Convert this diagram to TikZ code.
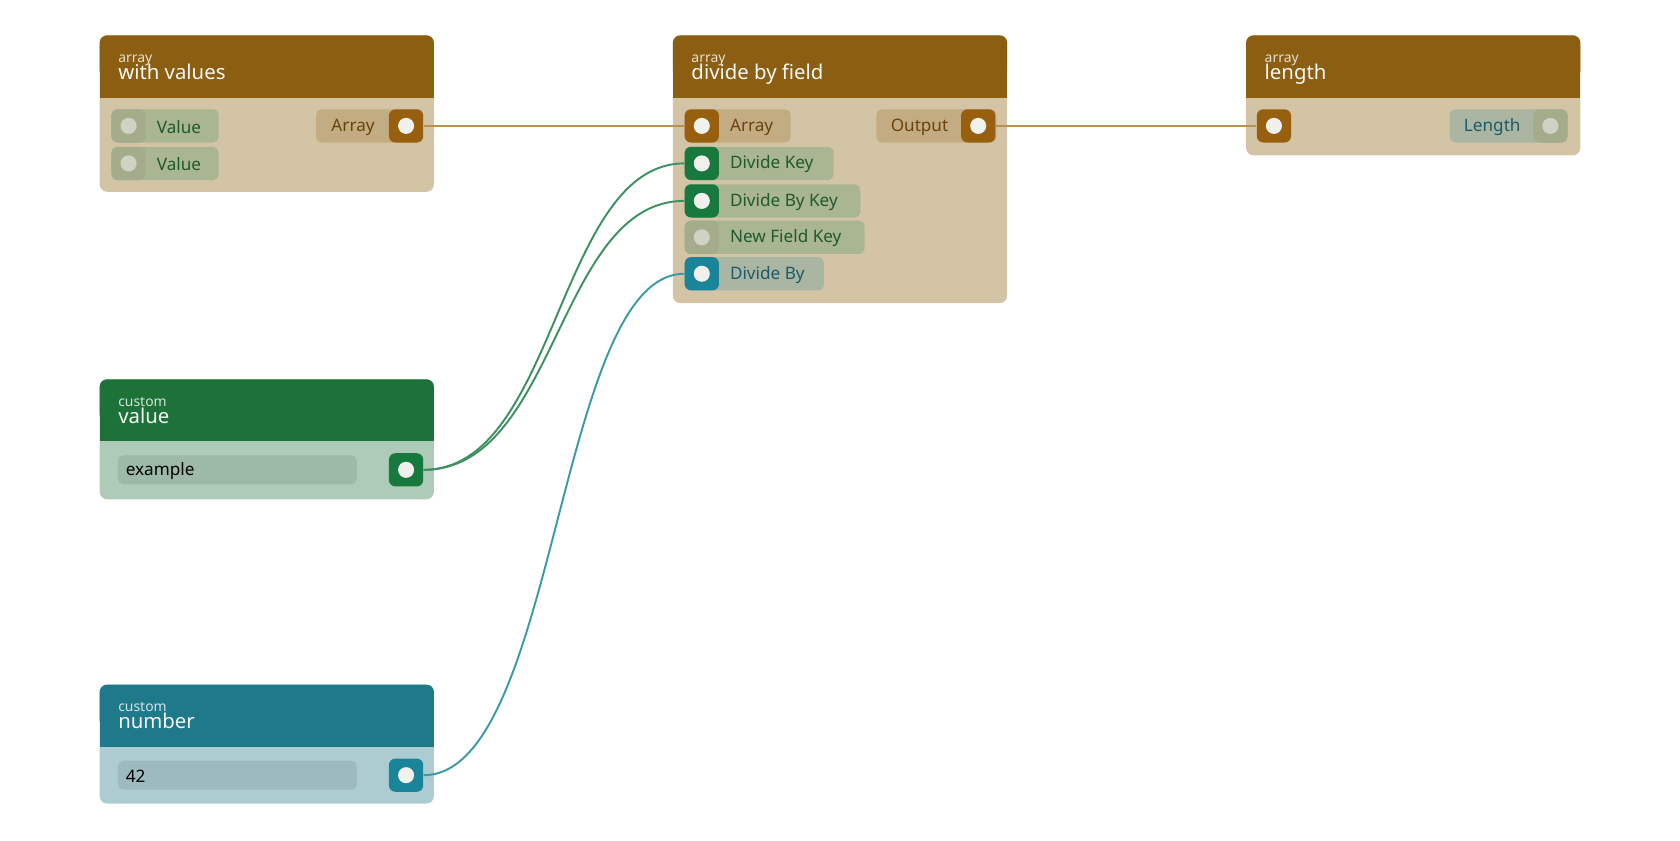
\documentclass[tikz,border=0pt]{standalone}
\usepackage{fontspec}
\setmainfont{Noto Sans}
\definecolor{brHead}{RGB}{139,94,18}
\definecolor{brBody}{RGB}{212,196,166}
\definecolor{brPill}{RGB}{196,172,130}
\definecolor{brSock}{RGB}{152,96,14}
\definecolor{brText}{RGB}{104,68,14}
\definecolor{grPill}{RGB}{170,181,146}
\definecolor{grText}{RGB}{30,90,46}
\definecolor{grSock}{RGB}{23,121,61}
\definecolor{offSock}{RGB}{164,172,140}
\definecolor{offDot}{RGB}{208,211,196}
\definecolor{tlSock}{RGB}{26,133,152}
\definecolor{tlPill}{RGB}{170,181,162}
\definecolor{tlText}{RGB}{29,90,107}
\definecolor{gnHead}{RGB}{29,114,57}
\definecolor{gnBody}{RGB}{173,203,182}
\definecolor{gnField}{RGB}{157,186,168}
\definecolor{tkHead}{RGB}{30,122,138}
\definecolor{tkBody}{RGB}{173,204,210}
\definecolor{tkField}{RGB}{157,187,191}
\definecolor{brWire}{RGB}{184,146,80}
\definecolor{grWire}{RGB}{61,145,96}
\definecolor{tlWire}{RGB}{58,155,165}
\definecolor{dotW}{RGB}{240,240,236}

\tikzset{every picture/.style={line width=0.75pt}}
\tikzset{
  sock/.style={draw=none,fill=#1,rounded corners=6pt,minimum width=32pt,minimum height=31pt,inner sep=0pt},
  dot/.style={circle,fill=#1,minimum size=15pt,inner sep=0pt},
  lbl/.style={anchor=west,font=\fontsize{16}{16}\selectfont,text=#1,inner sep=0pt,yshift=-1pt},
  wire/.style={line width=1.8pt,draw=#1}
}
% frame of one block: x, top, bottom, header colour, body colour, kind, title
\newcommand{\blockframe}[7]{
  \fill[#5,rounded corners=7pt] (#1,#2) rectangle ++(312,#3-#2);
  \fill[#4,rounded corners=7pt] (#1,#2) rectangle ++(312,40);
  \fill[#4] (#1,#2+30) rectangle ++(312,28);
  \node[anchor=base west,inner sep=0pt,text=white!80!#4,font=\fontsize{13}{13}\selectfont] at (#1+17,#2+25) {#6};
  \node[anchor=base west,inner sep=0pt,text=white!95!#4,font=\fontsize{19}{19}\selectfont] at (#1+17,#2+41) {#7};
}

\begin{document}
\begin{tikzpicture}[x=1pt,y=1pt,yscale=-1]
\useasboundingbox (0,0) rectangle (1568,784);

% block: with values
\blockframe{93}{33}{179}{brHead}{brBody}{array}{with values}
\fill[grPill,rounded corners=5pt] (104,102) rectangle (204,133);
\node[sock=offSock] (wv1) at (120,117.5) {}; \node[dot=offDot] at (wv1) {};
\node[lbl=grText] at (146,117.5) {Value};
\fill[grPill,rounded corners=5pt] (104,137) rectangle (204,168);
\node[sock=offSock] (wv2) at (120,152.5) {}; \node[dot=offDot] at (wv2) {};
\node[lbl=grText] at (146,152.5) {Value};
\fill[brPill,rounded corners=5pt] (295,102) rectangle (395,133);
\node[lbl=brText] at (309,117.5) {Array};
\node[sock=brSock] (wvOut) at (379,117.5) {}; \node[dot=dotW] at (wvOut) {};

% block: divide by field
\blockframe{628}{33}{283}{brHead}{brBody}{array}{divide by field}
\fill[brPill,rounded corners=5pt] (639,102) rectangle (738,133);
\node[sock=brSock] (dfArr) at (655,117.5) {}; \node[dot=dotW] at (dfArr) {};
\node[lbl=brText] at (681,117.5) {Array};
\fill[grPill,rounded corners=5pt] (639,137) rectangle (778,168);
\node[sock=grSock] (dfKey) at (655,152.5) {}; \node[dot=dotW] at (dfKey) {};
\node[lbl=grText] at (681,152.5) {Divide Key};
\fill[grPill,rounded corners=5pt] (639,172) rectangle (803,203);
\node[sock=grSock] (dfByKey) at (655,187.5) {}; \node[dot=dotW] at (dfByKey) {};
\node[lbl=grText] at (681,187.5) {Divide By Key};
\fill[grPill,rounded corners=5pt] (639,206) rectangle (807,237);
\node[sock=offSock] (dfNew) at (655,221.5) {}; \node[dot=offDot] at (dfNew) {};
\node[lbl=grText] at (681,221.5) {New Field Key};
\fill[tlPill,rounded corners=5pt] (639,240) rectangle (769,271);
\node[sock=tlSock] (dfBy) at (655,255.5) {}; \node[dot=dotW] at (dfBy) {};
\node[lbl=tlText] at (681,255.5) {Divide By};
\fill[brPill,rounded corners=5pt] (818,102) rectangle (930,133);
\node[lbl=brText] at (831,117.5) {Output};
\node[sock=brSock] (dfOut) at (913,117.5) {}; \node[dot=dotW] at (dfOut) {};

% block: length
\blockframe{1163}{33}{145}{brHead}{brBody}{array}{length}
\node[sock=brSock] (lnIn) at (1189,117.5) {}; \node[dot=dotW] at (lnIn) {};
\fill[tlPill,rounded corners=5pt] (1353,102) rectangle (1463,133);
\node[lbl=tlText] at (1366,117.5) {Length};
\node[sock=offSock] (lnOut) at (1447,117.5) {}; \node[dot=offDot] at (lnOut) {};

% block: value
\blockframe{93}{354}{466}{gnHead}{gnBody}{custom}{value}
\fill[gnField,rounded corners=5pt] (110,425) rectangle (333,452);
\node[lbl=black] at (117,438.5) {example};
\node[sock=grSock] (vaOut) at (379,438.5) {}; \node[dot=dotW] at (vaOut) {};

% block: number
\blockframe{93}{639}{750}{tkHead}{tkBody}{custom}{number}
\fill[tkField,rounded corners=5pt] (110,710) rectangle (333,737);
\node[lbl=black] at (117,723.5) {42};
\node[sock=tlSock] (nuOut) at (379,723.5) {}; \node[dot=dotW] at (nuOut) {};

% wires
\draw[wire=brWire] (wvOut.east) -- (dfArr.west);
\draw[wire=brWire] (dfOut.east) -- (lnIn.west);
\draw[wire=grWire] (vaOut.east) .. controls (520,438.5) and (520,152.5) .. (dfKey.west);
\draw[wire=grWire] (vaOut.east) .. controls (520,438.5) and (520,187.5) .. (dfByKey.west);
\draw[wire=tlWire] (nuOut.east) .. controls (520,723.5) and (520,255.5) .. (dfBy.west);
\end{tikzpicture}
\end{document}
